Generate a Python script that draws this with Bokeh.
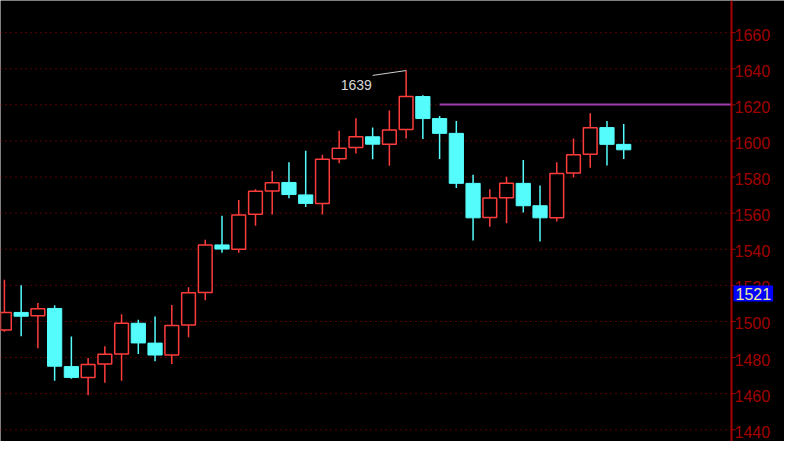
from bokeh.plotting import figure
from bokeh.models import Range1d, Label, Span
from bokeh.embed import file_html
from bokeh.resources import INLINE
from bokeh.core.properties import value

# ---- data ----
opens  = [1495.2, 1505.0, 1503.1, 1507.2, 1475.0, 1469.0, 1476.4, 1482.0, 1499.0, 1488.0,
          1481.4, 1498.0, 1516.0, 1542.4, 1540.0, 1559.4, 1572.3, 1577.0, 1570.1, 1565.4,
          1590.1, 1596.3, 1602.3, 1598.2, 1606.4, 1624.6, 1612.4, 1604.2, 1576.5, 1557.6,
          1568.5, 1576.5, 1564.1, 1557.4, 1582.2, 1592.6, 1607.4, 1598.1]
highs  = [1523.1, 1520.1, 1510.2, 1509.0, 1491.6, 1479.8, 1486.2, 1504.0, 1501.0, 1502.8,
          1509.1, 1519.0, 1545.2, 1558.6, 1567.3, 1573.3, 1583.4, 1588.2, 1594.5, 1592.4,
          1605.7, 1612.6, 1607.4, 1616.8, 1639.0, 1625.3, 1613.8, 1611.1, 1581.3, 1573.3,
          1580.2, 1589.4, 1575.3, 1588.2, 1601.3, 1615.4, 1611.1, 1609.4]
lows   = [1494.3, 1491.8, 1485.1, 1467.1, 1468.3, 1459.1, 1466.0, 1467.1, 1482.0, 1478.0,
          1476.4, 1491.2, 1511.8, 1538.1, 1538.1, 1553.0, 1559.2, 1568.2, 1563.4, 1559.2,
          1587.6, 1593.1, 1589.9, 1586.2, 1601.3, 1601.1, 1590.0, 1574.0, 1544.9, 1552.4,
          1554.4, 1560.4, 1544.3, 1555.4, 1579.7, 1585.1, 1586.4, 1590.0]
closes = [1505.0, 1502.9, 1507.0, 1475.2, 1469.0, 1476.2, 1481.9, 1499.0, 1488.1, 1481.4,
          1497.8, 1515.9, 1542.4, 1540.1, 1559.0, 1572.1, 1576.9, 1570.3, 1565.4, 1589.9,
          1596.0, 1602.3, 1598.2, 1606.0, 1624.6, 1612.4, 1604.2, 1576.5, 1557.4, 1568.4,
          1576.5, 1564.1, 1557.4, 1582.0, 1592.4, 1607.3, 1598.1, 1595.1]

tick_values = [1440, 1460, 1480, 1500, 1520, 1540, 1560, 1580, 1600, 1620, 1640, 1660]
tick_labels = [str(t) for t in tick_values]
high_mark_text = "1639"
price_line_value = 1620.2
price_line_start = 26
axis_marker_value = 1521
axis_marker_text = "1521"

# ---- colors ----
UP = "#ff3c3c"
DOWN = "#54fcfc"
AXIS = "#a80000"
LABEL = "#a00000"

n = len(opens)
idx = list(range(n))
up_x = [i for i in idx if closes[i] >= opens[i]]
dn_x = [i for i in idx if closes[i] < opens[i]]

W, H = 784, 441
AXIS_PX = 731                      # price axis position inside the canvas
x0, x_axis = -0.234, 43.44         # data span left of the price axis
x_end = x0 + (x_axis - x0) * W / AXIS_PX
px = (x_axis - x0) / AXIS_PX       # one pixel in x data units

p = figure(width=W, height=H, output_backend="svg", toolbar_location=None,
           x_range=Range1d(x0, x_end), y_range=Range1d(1433.5, 1677.8),
           x_axis_location=None, y_axis_location=None,
           background_fill_color="#000000", border_fill_color="#000000",
           outline_line_color=None, min_border=0)
p.grid.visible = False

# dotted grid lines up to the price axis
p.segment(x0=[x0] * len(tick_values), y0=tick_values,
          x1=[x_axis] * len(tick_values), y1=tick_values,
          line_color="#b00000", line_dash="1 4", line_width=1)

# wicks
p.segment(x0=up_x, y0=[highs[i] for i in up_x], x1=up_x, y1=[lows[i] for i in up_x],
          line_color=UP, line_width=1.5)
p.segment(x0=dn_x, y0=[highs[i] for i in dn_x], x1=dn_x, y1=[lows[i] for i in dn_x],
          line_color=DOWN, line_width=1.5)
# bodies
p.vbar(x=up_x, width=0.82, top=[closes[i] for i in up_x], bottom=[opens[i] for i in up_x],
       fill_color="#000000", line_color=UP, line_width=1.5)
p.vbar(x=dn_x, width=0.85, top=[opens[i] for i in dn_x], bottom=[closes[i] for i in dn_x],
       fill_color=DOWN, line_color=DOWN, line_width=1)

# price line (magenta)
p.segment(x0=[price_line_start], y0=[price_line_value], x1=[x_axis], y1=[price_line_value],
          line_color="#a03cb0", line_width=2)

# high marker
hi_i = max(idx, key=lambda i: highs[i])
p.segment(x0=[hi_i - 2.0], y0=[highs[hi_i] - 2.7], x1=[hi_i], y1=[highs[hi_i]],
          line_color="#d0d0d0", line_width=1)
p.text(x=[hi_i - 2.05], y=[highs[hi_i] - 8.0], text=[high_mark_text],
       text_align="right", text_baseline="middle", text_color="#d8d8d8",
       text_font=value("Liberation Sans"), text_font_size="14px")

# price axis: line, ticks, labels
p.add_layout(Span(location=x_axis, dimension="height", line_color=AXIS, line_width=2))
p.segment(x0=[x_axis] * len(tick_values), y0=tick_values,
          x1=[x_axis + 4 * px] * len(tick_values), y1=tick_values,
          line_color=AXIS, line_width=1)
p.text(x=[x_axis] * len(tick_values), y=tick_values, text=tick_labels,
       x_offset=3, y_offset=2, text_align="left", text_baseline="middle",
       text_color=LABEL, text_font=value("Liberation Sans"), text_font_size="16px")

# axis marker box
p.add_layout(Label(x=x_axis, y=axis_marker_value, x_offset=2, y_offset=-2,
                   text=axis_marker_text, text_baseline="top", text_align="left",
                   text_color="#ecec9c", text_font="Liberation Sans",
                   text_font_size="16px", background_fill_color="#0000ff",
                   padding=2))

open("out.html", "w").write(file_html(p, INLINE))
